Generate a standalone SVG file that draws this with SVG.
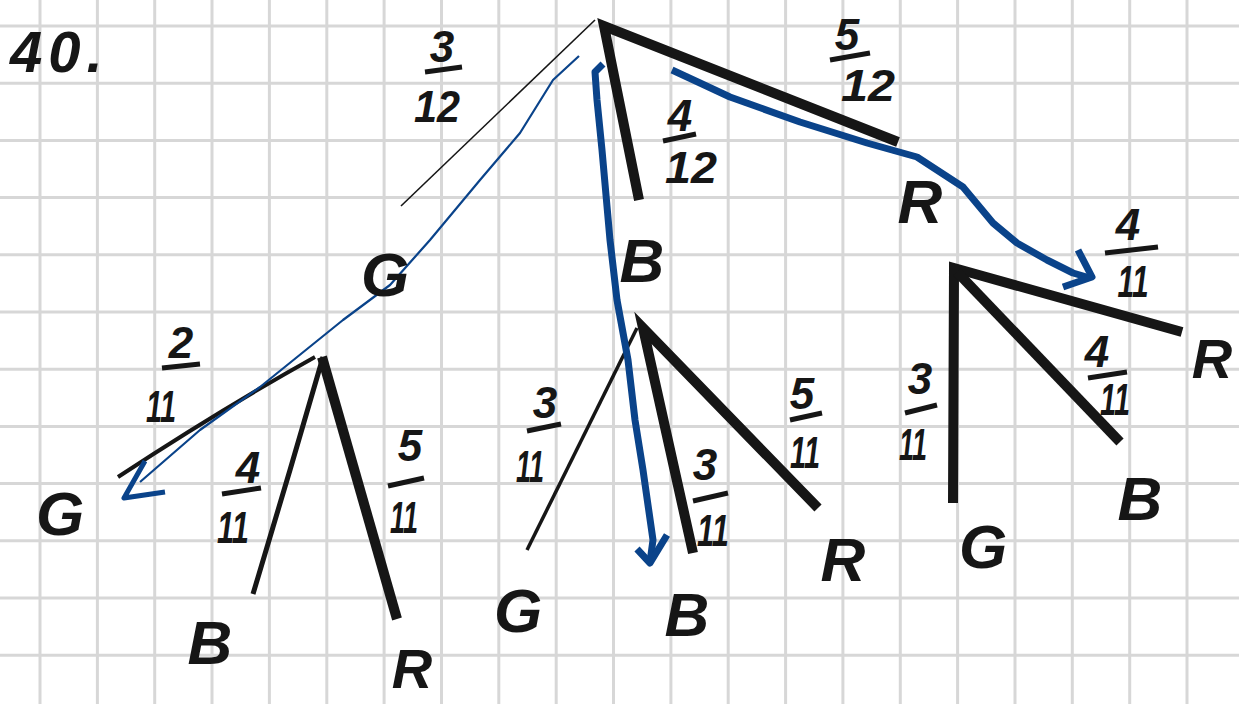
<svg xmlns="http://www.w3.org/2000/svg" width="1239" height="704" viewBox="0 0 1239 704">
<style>
.grid{stroke:#d7d7d7;stroke-width:3;fill:none}
.thick{stroke:#161616;stroke-width:10;fill:none;stroke-linecap:butt;stroke-linejoin:miter}
.mid{stroke:#161616;stroke-width:5;fill:none;stroke-linecap:butt;stroke-linejoin:round}
.thin{stroke:#161616;stroke-width:1.6;fill:none}
.bar{stroke:#161616;stroke-width:5;fill:none;stroke-linecap:butt}
.blue{stroke:#0a438a;stroke-width:7;fill:none;stroke-linecap:butt;stroke-linejoin:round}
.bluethin{stroke:#0a438a;stroke-width:2.2;fill:none;stroke-linejoin:round}
.lbl{font-family:"Liberation Sans",Arial,sans-serif;font-weight:bold;font-style:italic;font-size:62px;fill:#161616;text-anchor:middle}
.num{font-family:"Liberation Sans",Arial,sans-serif;font-weight:bold;font-style:italic;font-size:44px;fill:#161616;text-anchor:middle}
</style>
<rect width="1239" height="704" fill="#ffffff"/>
<g id="grid">
<path class="grid" d="M40,0V704M97.4,0V704M154.7,0V704M212,0V704M269.4,0V704M326.8,0V704M384.1,0V704M441.5,0V704M498.8,0V704M556.2,0V704M613.5,0V704M670.9,0V704M728.2,0V704M785.6,0V704M842.9,0V704M900.3,0V704M957.6,0V704M1015,0V704M1072.3,0V704M1129.7,0V704M1187,0V704"/>
<path class="grid" d="M0,26H1239M0,83.2H1239M0,140.4H1239M0,197.6H1239M0,254.8H1239M0,312H1239M0,369.2H1239M0,426.4H1239M0,483.6H1239M0,540.8H1239M0,598H1239M0,655.2H1239"/>
</g>
<g id="title"><text class="lbl" x="10" y="72" style="text-anchor:start;font-size:58px" letter-spacing="6">40.</text></g>
<g id="connectors">
<line class="thin" x1="595" y1="20" x2="401" y2="206"/>
<path class="thick" d="M639,200 L604,26 L898,142"/>
<path class="mid" d="M315,357 Q220,410 118,477" style="stroke-width:4"/>
<path class="mid" d="M323,357 L290,470 L273,527 L253,594"/>
<line class="thick" x1="322" y1="357" x2="397" y2="619"/>
<line class="mid" x1="637" y1="328" x2="527" y2="550" style="stroke-width:3.5"/>
<path class="thick" d="M693,553 L643,328 L818,508"/>
<path class="thick" d="M953,503 L954,268 L1182,332"/>
<line class="thick" x1="957" y1="272" x2="1120" y2="442"/>
<path class="bluethin" d="M579,56 L553,80 L520,133 L480,180 L430,240 L390,285 L343,320 L260,387 L200,430 L140,482"/>
<path class="blue" style="stroke-width:5" d="M145,461 L124,498 L165,492"/>
<path class="blue" d="M603,64 L595,72 L597,100 L602,150 L610,240 L617,300 L628,360 L635,420 L643,470 L653,540 L650,562"/>
<path class="blue" d="M637,549 L650,563 L667,535"/>
<path class="blue" d="M672,70 L700,83 L730,97 L800,122 L867,143 L917,157 L963,187 L993,223 L1017,243 L1047,260 L1073,273 L1090,278"/>
<path class="blue" d="M1078,250 L1092,277 L1063,287"/>
</g>
<g id="edge-labels">
<text class="num" x="442" y="62">3</text><line class="bar" x1="425" y1="72" x2="462" y2="67"/><text class="num" x="437" y="122" textLength="46" lengthAdjust="spacingAndGlyphs">12</text>
<text class="num" x="680" y="131">4</text><line class="bar" x1="663" y1="141" x2="696" y2="134"/><text class="num" x="691" y="183" textLength="52" lengthAdjust="spacingAndGlyphs">12</text>
<text class="num" x="847" y="50">5</text><line class="bar" x1="830" y1="60" x2="870" y2="53"/><text class="num" x="868" y="101" textLength="54" lengthAdjust="spacingAndGlyphs">12</text>
<text class="num" x="181" y="358">2</text><line class="bar" x1="162" y1="368" x2="200" y2="364"/><text class="num" x="161" y="422" textLength="30" lengthAdjust="spacingAndGlyphs">11</text>
<text class="num" x="248" y="483">4</text><line class="bar" x1="222" y1="494" x2="261" y2="488"/><text class="num" x="233" y="543" textLength="32" lengthAdjust="spacingAndGlyphs">11</text>
<text class="num" x="410" y="461">5</text><line class="bar" x1="388" y1="486" x2="424" y2="478"/><text class="num" x="404" y="533" textLength="28" lengthAdjust="spacingAndGlyphs">11</text>
<text class="num" x="545" y="418">3</text><line class="bar" x1="527" y1="431" x2="561" y2="424"/><text class="num" x="530" y="482" textLength="28" lengthAdjust="spacingAndGlyphs">11</text>
<text class="num" x="705" y="480">3</text><line class="bar" x1="693" y1="501" x2="728" y2="493"/><text class="num" x="713" y="546" textLength="32" lengthAdjust="spacingAndGlyphs">11</text>
<text class="num" x="802" y="409">5</text><line class="bar" x1="790" y1="420" x2="822" y2="413"/><text class="num" x="805" y="468" textLength="30" lengthAdjust="spacingAndGlyphs">11</text>
<text class="num" x="920" y="394">3</text><line class="bar" x1="905" y1="413" x2="937" y2="405"/><text class="num" x="913" y="460" textLength="28" lengthAdjust="spacingAndGlyphs">11</text>
<text class="num" x="1097" y="367">4</text><line class="bar" x1="1088" y1="378" x2="1127" y2="372"/><text class="num" x="1115" y="415" textLength="30" lengthAdjust="spacingAndGlyphs">11</text>
<text class="num" x="1128" y="240">4</text><line class="bar" x1="1105" y1="253" x2="1158" y2="247"/><text class="num" x="1133" y="297" textLength="31" lengthAdjust="spacingAndGlyphs">11</text>
</g>
<g id="node-G1"><text class="lbl" x="385" y="296">G</text></g>
<g id="node-B1"><text class="lbl" x="642" y="282">B</text></g>
<g id="node-R1"><text class="lbl" x="920" y="223">R</text></g>
<g id="node-GG"><text class="lbl" x="60" y="535">G</text></g>
<g id="node-GB"><text class="lbl" x="210" y="664">B</text></g>
<g id="node-GR"><text class="lbl" x="412" y="688" style="font-size:56px">R</text></g>
<g id="node-BG"><text class="lbl" x="518" y="632">G</text></g>
<g id="node-BB"><text class="lbl" x="687" y="636">B</text></g>
<g id="node-BR"><text class="lbl" x="843" y="581">R</text></g>
<g id="node-RG"><text class="lbl" x="983" y="568">G</text></g>
<g id="node-RB"><text class="lbl" x="1140" y="520">B</text></g>
<g id="node-RR"><text class="lbl" x="1212" y="378" style="font-size:56px">R</text></g>
</svg>
